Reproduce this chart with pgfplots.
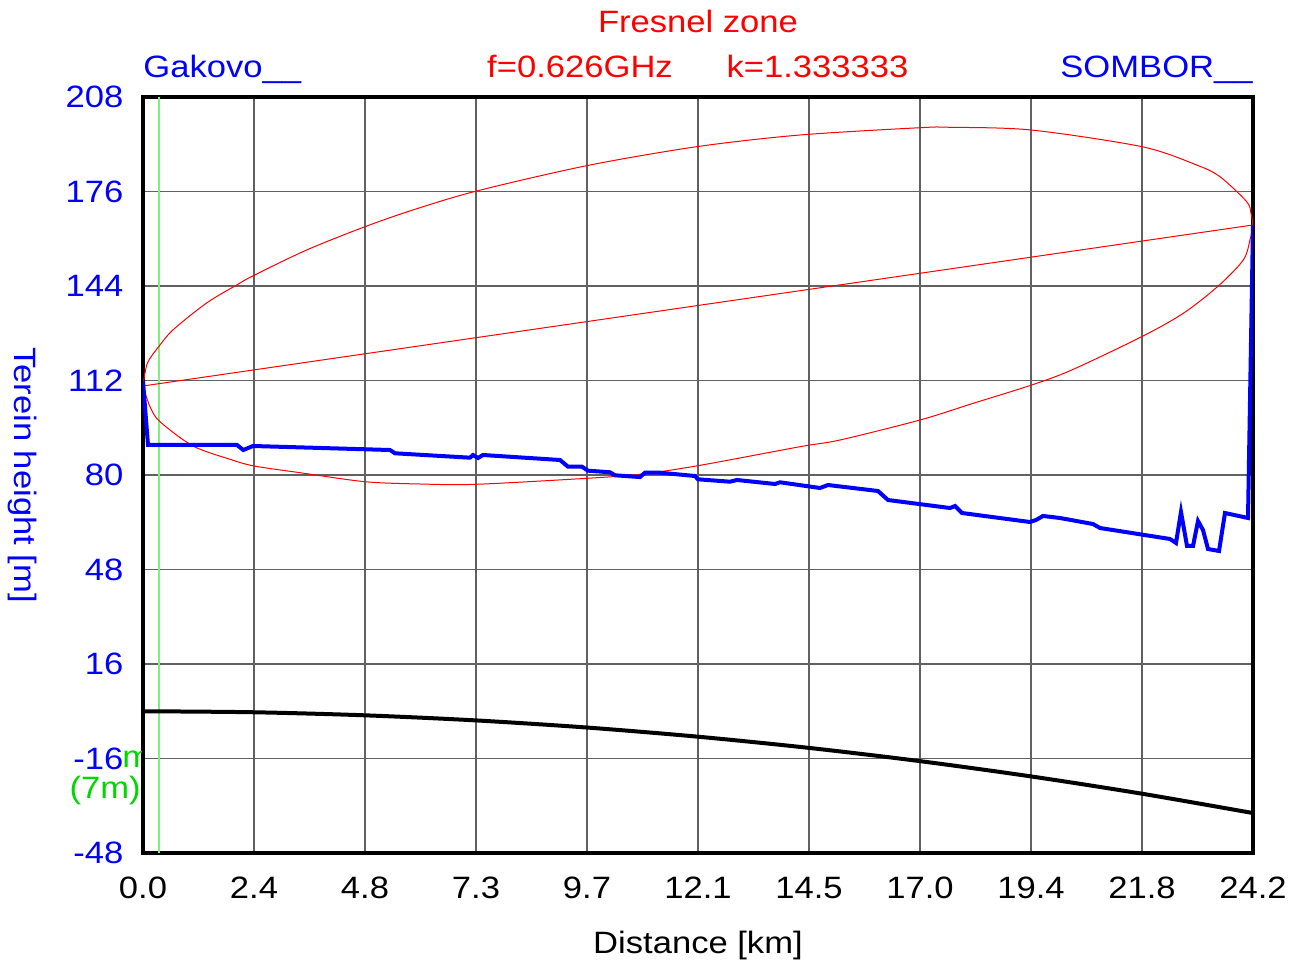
\documentclass[border=0pt]{standalone}
\usepackage{pgfplots}
\pgfplotsset{compat=1.18}
\usepackage{fontspec}
\setmainfont{Liberation Sans}[FakeStretch=1.12]
\definecolor{lgreen}{RGB}{125,240,125}
\definecolor{tgreen}{RGB}{0,215,0}
\begin{document}
\begin{tikzpicture}[font=\fontsize{15.5}{18}\selectfont]
\path[use as bounding box] (-71.5bp,-54.5bp) rectangle (580bp,426.5bp);
\begin{axis}[
  at={(0,0)}, anchor=south west,
  scale only axis, width=555bp, height=378bp,
  xmin=0, xmax=24.2, ymin=-48, ymax=208,
  xtick={0,2.42,4.84,7.26,9.68,12.1,14.52,16.94,19.36,21.78,24.2},
  xticklabels={0.0,2.4,4.8,7.3,9.7,12.1,14.5,17.0,19.4,21.8,24.2},
  ytick={-48,-16,16,48,80,112,144,176,208},
  yticklabels={-48,-16,16,48,80,112,144,176,208},
  tick style={draw=none},
  grid=major,
  major grid style={black!62, line width=0.75bp},
  axis line style={black, line width=1.6bp},
  yticklabel style={text=blue, xshift=-6.3bp},
  xticklabel style={yshift=-8.5bp},
  /pgf/number format/assume math mode=true,
]
\addplot[lgreen, line width=1.25bp] coordinates {(0.349,-48) (0.349,208)};
% Fresnel ellipse
\addplot[red, line width=0.5bp, smooth] coordinates {
(0,110.14) (0.094,117.82) (0.349,123.58) (0.661,129.23) (1.389,138.27) (2.043,144.34)
(2.405,147.49) (3.569,156.19) (4.840,164.08) (5.930,169.97) (7.275,176.17) (9.673,184.74)
(12.071,191.17) (14.323,195.13) (16.940,197.60) (17.594,197.74) (19.360,196.83) (21.780,191.17)
(22.972,184.97) (23.480,181.01) (24.062,172.55) (24.156,168.62) (24.194,164.66)
(24.134,159.58) (23.988,152.8) (23.443,144.0) (22.680,134.75) (21.773,126.83) (20.247,115.55)
(19.375,110.48) (18.102,104.28) (16.940,98.62) (15.196,91.85) (14.323,89.58) (12.100,83.15)
(10.835,80.24) (9.680,78.88) (7.260,76.85) (6.039,76.95) (4.840,77.73) (3.423,80.78)
(2.420,83.05) (1.897,85.32) (1.090,89.82) (0.371,98.05) (0.153,103.13) (0,110.14)};
% line of sight
\addplot[red, line width=0.5bp] coordinates {(0,110.14) (24.2,164.66)};
% terrain
\addplot[blue, line width=2bp] coordinates {
(0,111.83) (0.109,90.16) (2.049,90.16) (2.187,88.46) (2.398,89.82) (5.385,88.46)
(5.494,87.35) (7.129,85.86) (7.195,86.77) (7.304,85.76) (7.413,86.77) (9.091,85.08)
(9.266,82.81) (9.571,82.81) (9.702,81.46) (10.182,80.92) (10.291,79.90) (10.727,79.42)
(10.835,79.3) (10.944,80.78) (11.271,80.78) (12.034,79.66) (12.100,78.54) (12.798,77.73)
(12.951,78.31) (13.779,76.95) (13.887,77.53) (14.759,75.60) (14.934,76.61) (16.024,74.58)
(16.242,71.53) (17.594,68.82) (17.703,69.50) (17.855,67.13) (19.338,64.08) (19.469,64.76)
(19.621,66.12) (19.992,65.44) (20.711,63.40) (20.864,62.05) (22.390,58.33) (22.521,56.97)
(22.630,67.47) (22.761,55.96) (22.892,55.96) (23.001,64.42) (23.110,61.37) (23.219,54.94)
(23.459,54.26) (23.589,67.13) (24.091,65.44) (24.2,164.66)};
% earth curvature
\addplot[black, line width=2bp, smooth] coordinates {
(0,0) (2.42,-0.345) (4.84,-1.379) (7.26,-3.103) (9.68,-5.516) (12.1,-8.619)
(14.52,-12.411) (16.94,-16.893) (19.36,-22.065) (21.78,-27.926) (24.2,-34.476)};
\end{axis}
\node[red, anchor=base, inner sep=0] at (277.5bp,410bp) {Fresnel zone};
\node[blue, anchor=base west, inner sep=0] at (0bp,387.5bp) {Gakovo\_\_};
\node[red, anchor=base, inner sep=0] at (218.5bp,387.5bp) {f=0.626GHz};
\node[red, anchor=base, inner sep=0] at (337.25bp,387.5bp) {k=1.333333};
\node[blue, anchor=base east, inner sep=0] at (555bp,387.5bp) {SOMBOR\_\_};
\node[anchor=base, inner sep=0] at (277.5bp,-50bp) {Distance [km]};
\node[blue, rotate=-90, inner sep=0] at (-60.5bp,189bp) {Terein height [m]};
\begin{scope}
\clip (-10.5bp,38bp) rectangle (-0.8bp,58bp);
\node[tgreen, anchor=west, inner sep=0] at (-10.5bp,47bp) {m};
\end{scope}
\node[tgreen, anchor=east, inner sep=0] at (-1bp,31bp) {(7m)};
\end{tikzpicture}
\end{document}
